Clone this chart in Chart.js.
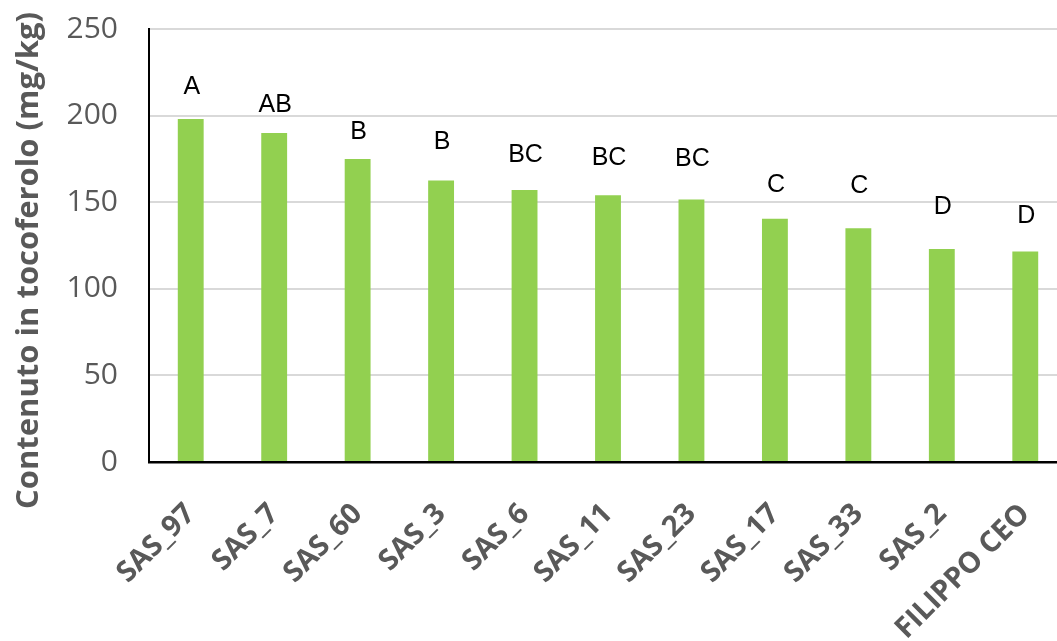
<!DOCTYPE html>
<html>
<head>
<meta charset="utf-8">
<script src="https://cdn.jsdelivr.net/npm/chart.js@4"></script>
<style>
  html, body { margin: 0; padding: 0; background: #fff; overflow: hidden; }
  #wrap { width: 1068px; height: 641px; }
</style>
</head>
<body>
<div id="wrap"><canvas id="chart" width="1068" height="641"></canvas></div>
<script>
const categories = ['SAS_97', 'SAS_7', 'SAS_60', 'SAS_3', 'SAS_6', 'SAS_11', 'SAS_23', 'SAS_17', 'SAS_33', 'SAS_2', 'FILIPPO CEO'];
const tocoferolo = [198, 190, 175, 162.5, 157, 154, 151.5, 140.5, 135, 123, 121.5];
const letters = ['A', 'AB', 'B', 'B', 'BC', 'BC', 'BC', 'C', 'C', 'D', 'D'];
// where each letter sits, in mg/kg on the y scale
const letterPos = [216.6, 206.1, 190.6, 184.9, 177.2, 175.3, 174.7, 159.8, 159.2, 146.9, 141.9];
const yTicks = [0, 50, 100, 150, 200, 250];
const yTitle = 'Contenuto in tocoferolo (mg/kg)';

const letterPlugin = {
  id: 'letters',
  afterDatasetsDraw(chart) {
    const { ctx, scales } = chart;
    const meta = chart.getDatasetMeta(0);
    ctx.save();
    ctx.font = '25px "Liberation Sans", Arial, sans-serif';
    ctx.fillStyle = '#000';
    ctx.textAlign = 'center';
    ctx.textBaseline = 'middle';
    meta.data.forEach((bar, i) => {
      ctx.fillText(letters[i], bar.x + 1, scales.y.getPixelForValue(letterPos[i]));
    });
    ctx.restore();
  }
};

// excel puts the axis title a bit lower than the plot centre
const yTitlePlugin = {
  id: 'yTitle',
  afterDraw(chart) {
    const { ctx, chartArea } = chart;
    ctx.save();
    ctx.translate(chartArea.left - 120, (chartArea.top + chartArea.bottom) / 2 + 15);
    ctx.rotate(-Math.PI / 2);
    ctx.font = 'bold 31px "Open Sans"';
    ctx.fillStyle = '#595959';
    ctx.textAlign = 'center';
    ctx.textBaseline = 'middle';
    ctx.fillText(yTitle, 0, 0);
    ctx.restore();
  }
};

new Chart(document.getElementById('chart'), {
  type: 'bar',
  data: {
    labels: categories,
    datasets: [{
      data: tocoferolo,
      backgroundColor: '#92D050',
      categoryPercentage: 1,
      barPercentage: 0.31
    }]
  },
  options: {
    responsive: false,
    animation: false,
    layout: { padding: { top: 29, right: 1 } },
    plugins: { legend: { display: false }, tooltip: { enabled: false } },
    scales: {
      x: {
        grid: { display: false },
        border: { color: '#000', width: 2.5 },
        ticks: {
          color: '#595959',
          font: { family: '"Open Sans"', size: 29, weight: 'bold' },
          maxRotation: 45,
          minRotation: 45,
          padding: 27,
          autoSkip: false
        },
        afterFit(scale) {
          scale.height = 179;
          scale.paddingTop = 0;
          scale.paddingBottom = 0;
          scale.paddingLeft = 0;
          scale.paddingRight = 0;
        }
      },
      y: {
        min: 0,
        max: 250,
        afterBuildTicks(scale) { scale.ticks = yTicks.map(v => ({ value: v })); },
        grid: { color: '#d9d9d9', lineWidth: 2, drawTicks: false },
        border: { color: '#000', width: 2 },
        ticks: {
          color: '#595959',
          font: { family: '"Open Sans"', size: 30 },
          padding: 31
        },
        afterFit(scale) {
          scale.width = 149;
          scale.paddingTop = 0;
          scale.paddingBottom = 0;
        }
      }
    }
  },
  plugins: [letterPlugin, yTitlePlugin]
});
</script>
</body>
</html>
